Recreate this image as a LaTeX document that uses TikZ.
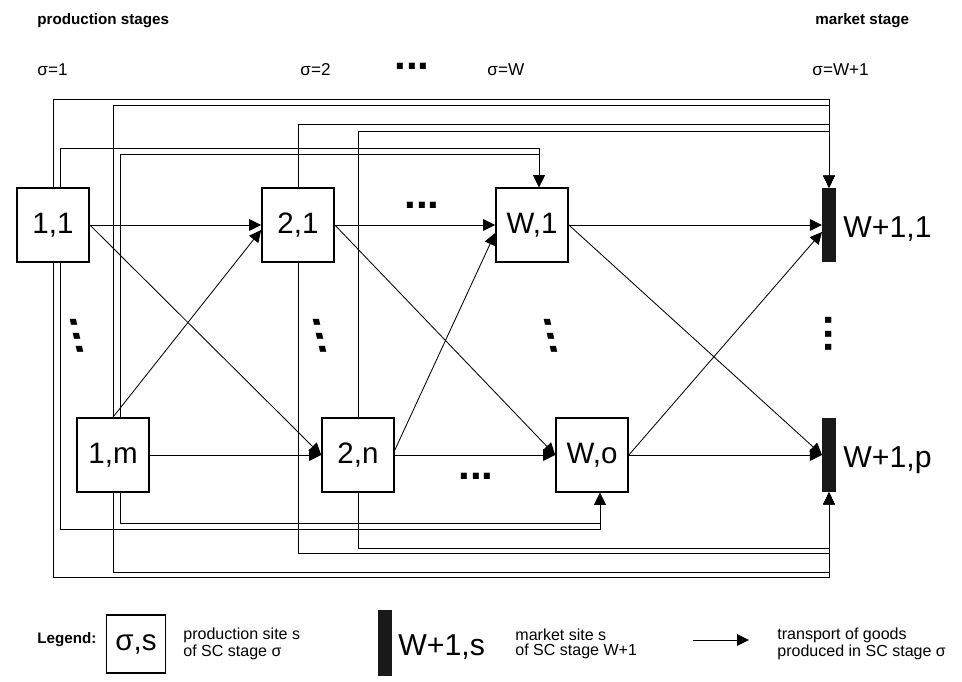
\documentclass[tikz,border=0pt]{standalone}
\usepackage{fontspec}
\setmainfont{Liberation Sans}
\usetikzlibrary{arrows.meta,calc}

\newcommand{\vdotsrow}{.\kern.05em.\kern.05em.}

\begin{document}
\begin{tikzpicture}[x=0.25mm,y=-0.25mm,>={Triangle[length=3mm,width=2.9mm]},line width=0.6pt,
  site/.style={draw,line width=1.2pt,fill=white,minimum width=18mm,minimum height=18.5mm,inner sep=0pt,font=\fontsize{21}{21}\selectfont},
  market/.style={fill=black!90,minimum width=3.3mm,minimum height=18.5mm,inner sep=0pt},
  mlabel/.style={anchor=base west,inner sep=0pt,font=\fontsize{21.5}{21.5}\selectfont},
  head/.style={anchor=west,inner sep=0pt,font=\fontsize{10.8}{12}\selectfont\bfseries},
  stage/.style={anchor=west,inner sep=0pt,font=\fontsize{12.2}{13}\selectfont},
  dotsrow/.style={inner sep=0pt,font=\fontsize{30}{30}\selectfont\bfseries},
  dotscol/.style={dotsrow,xslant=-0.23,rotate=-90}]
  \useasboundingbox (0,0) rectangle (962,681);
  % headings
  \node[head] (prod) at (37,21) {production stages};
  \node[head] (mark) at (815,21) {market stage};
  \node[stage] (sg1) at (37,70) {σ=1};
  \node[stage] (sg2) at (300,70) {σ=2};
  \node[dotsrow] (sgdots) at (412,66) {...};
  \node[stage] (sgW) at (487,70) {σ=W};
  \node[stage] (sgM) at (812,70) {σ=W+1};
  % sites
  \node[site] (s11) at (53,225) {1,1};
  \node[site] (s21) at (298,225) {2,1};
  \node[site] (sW1) at (532,225) {W,1};
  \node[market] (m1) at (829,225) {};
  \node[mlabel] (m1lab) at (843,237) {W+1,1};
  \node[site] (s1m) at (113,455) {1,m};
  \node[site] (s2n) at (358,455) {2,n};
  \node[site] (sWo) at (592,455) {W,o};
  \node[market] (mp) at (829,455) {};
  \node[mlabel] (mplab) at (843,467) {W+1,p};
  % dots
  \node[dotsrow] (dtop) at (422,205) {...};
  \node[dotsrow] (dbot) at (476,476) {...};
  \node[dotscol] (d1) at (77,336) {\vdotsrow};
  \node[dotscol] (d2) at (320,336) {\vdotsrow};
  \node[dotscol] (d3) at (551,336) {\vdotsrow};
  \node[dotsrow,rotate=-90] (d4) at (829,334) {\vdotsrow};
  % direct transport
  \path[->]
    (s11) edge (s21)
    (s11.east) edge (s2n.west)
    (s1m.north) edge ($(s21.west)+(0,5)$)
    (s1m) edge (s2n)
    (s21) edge (sW1)
    (s21.east) edge (sWo.west)
    ($(s2n.east)+(0,-5)$) edge ($(sW1.west)+(0,8)$)
    (s2n) edge (sWo)
    (sW1) edge (m1)
    (sW1.east) edge (mp.west)
    (sWo.east) edge ($(m1.west)+(0,7)$)
    (sWo) edge (mp);
  % transport over the top
  \draw[->] (s11.north) |- (829,99) -- (m1.north);
  \draw[->] (s1m.north) |- (829,105) -- (m1.north);
  \draw[->] (s21.north) |- (829,124) -- (m1.north);
  \draw[->] (s2n.north) |- (829,131) -- (m1.north);
  \draw[->] ($(s11.north)+(7,0)$) |- (539,148) -- ($(sW1.north)+(7,0)$);
  \draw[->] ($(s1m.north)+(7,0)$) |- (539,154) -- ($(sW1.north)+(7,0)$);
  % transport along the bottom
  \draw[->] ($(s1m.south)+(7,0)$) |- (600,523) -- ($(sWo.south)+(8,0)$);
  \draw[->] ($(s11.south)+(7,0)$) |- (600,529) -- ($(sWo.south)+(8,0)$);
  \draw[->] (s2n.south) |- (829,548) -- (mp.south);
  \draw[->] (s21.south) |- (829,553) -- (mp.south);
  \draw[->] (s1m.south) |- (829,572) -- (mp.south);
  \draw[->] (s11.south) |- (829,577) -- (mp.south);
  % legend
  \tikzset{note/.style={anchor=west,align=left,inner sep=0pt,font=\fontsize{11.4}{10.2}\selectfont}}
  \node[head] (leg) at (37,640) {Legend:};
  \node[site,minimum width=14.75mm,minimum height=14.5mm] (lsite) at (136,644) {σ,s};
  \node[note] (lsitetxt) at (183,644) {production site s\\of SC stage σ};
  \node[market,minimum width=3.5mm,minimum height=16.5mm] (lbar) at (385,643) {};
  \node[mlabel] (lbarlab) at (398,655) {W+1,s};
  \node[note] (lbartxt) at (515,644) {market site s\\of SC stage W+1};
  \coordinate (la) at (693,640);
  \coordinate (lb) at (749,640);
  \draw[->] (la) -- (lb);
  \node[note] (larrtxt) at (777,644) {transport of goods\\produced in SC stage σ};
\end{tikzpicture}
\end{document}
